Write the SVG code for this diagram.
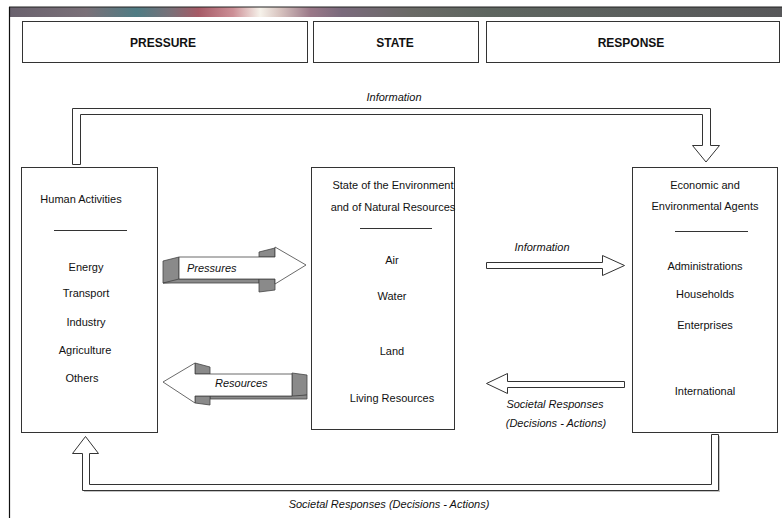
<svg xmlns="http://www.w3.org/2000/svg" width="782" height="518" viewBox="0 0 782 518">
<defs>
<linearGradient id="banner" gradientUnits="userSpaceOnUse" x1="9" y1="0" x2="782" y2="0">
<stop offset="0" stop-color="#6a626e"/>
<stop offset="0.1" stop-color="#7a7078"/>
<stop offset="0.165" stop-color="#4f7c84"/>
<stop offset="0.21" stop-color="#7a7078"/>
<stop offset="0.245" stop-color="#a65a66"/>
<stop offset="0.29" stop-color="#cc8f96"/>
<stop offset="0.325" stop-color="#f6f2ea"/>
<stop offset="0.35" stop-color="#d8c4c0"/>
<stop offset="0.39" stop-color="#9a7888"/>
<stop offset="0.43" stop-color="#7a6a7c"/>
<stop offset="0.52" stop-color="#6a6a66"/>
<stop offset="0.62" stop-color="#5e6660"/>
<stop offset="1" stop-color="#58585a"/>
</linearGradient>
<style>
.box{fill:#fff;stroke:#333;stroke-width:1}
.hdr{font-family:"Liberation Sans",Arial,sans-serif;font-size:12px;font-weight:bold;fill:#111;text-anchor:middle}
.t{font-family:"Liberation Sans",Arial,sans-serif;font-size:11px;fill:#111;text-anchor:middle}
.lbl{font-family:"Liberation Sans",Arial,sans-serif;font-size:11px;font-style:italic;fill:#111}
.sep{stroke:#333;stroke-width:1}
.hollow{fill:#fff;stroke:#333;stroke-width:1}
.shade{fill:#8a8a8a;stroke:#444;stroke-width:0.8}
.face{fill:#fff;stroke:#444;stroke-width:0.8}
</style>
</defs>
<rect x="0" y="0" width="782" height="518" fill="#fff"/>
<!-- frame -->
<rect x="9" y="7" width="773" height="10" fill="url(#banner)"/>
<line x1="9" y1="7" x2="782" y2="7" stroke="#222" stroke-width="1"/>
<line x1="9.5" y1="7" x2="9.5" y2="518" stroke="#111" stroke-width="1.2"/>
<!-- header -->
<g id="hdr-pressure"><rect class="box" x="22.5" y="21.5" width="285" height="41"/><text class="hdr" x="163" y="47">PRESSURE</text></g>
<g id="hdr-state"><rect class="box" x="313.5" y="21.5" width="165" height="41"/><text class="hdr" x="395" y="47">STATE</text></g>
<g id="hdr-response"><rect class="box" x="486.5" y="21.5" width="293" height="41"/><text class="hdr" x="631" y="47">RESPONSE</text></g>
<!-- connectors -->
<g id="connectors">
<path class="hollow" d="M72.5,164.5 V108.5 H710.5 V145.5 H719.5 L706,162 L692.5,145.5 H702.5 V114.5 H80.5 V164.5 Z"/>
<text class="lbl" x="394" y="101" text-anchor="middle">Information</text>
<path fill="#c4c4c4" d="M720,436 V492 H84 V490 H718 V436 Z"/>
<path class="hollow" d="M711.5,434.5 H718.5 V490.5 H82.5 V453.5 H72.5 L85.5,436.5 L98.5,453.5 H89.5 V484.5 H711.5 Z"/>
<text class="lbl" x="389" y="508" text-anchor="middle">Societal Responses (Decisions - Actions)</text>
<path class="hollow" d="M486.5,262.5 H602.5 V255.5 L624.5,265.5 L602.5,275.5 V268.5 H486.5 Z"/>
<text class="lbl" x="542" y="251" text-anchor="middle">Information</text>
<path class="hollow" d="M624.5,381.5 H507.5 V373.5 L486.5,383.5 L507.5,393.5 V387.5 H624.5 Z"/>
<text class="lbl" x="555" y="408" text-anchor="middle">Societal Responses</text>
<text class="lbl" x="556" y="427" text-anchor="middle">(Decisions - Actions)</text>
<g id="arrow-pressures">
<polygon class="shade" points="163,261 179,257 179,282 163,283"/>
<polygon class="shade" points="163,283 259,283 259,279 179,279"/>
<polygon class="shade" points="259,252 275,248 275,257 259,257"/>
<polygon class="shade" points="259,279 275,279 275,290 259,292"/>
<polygon class="face" points="179,257 275,257 275,247 306,265 275,284 275,279 179,279"/>
<text class="lbl" x="187" y="272">Pressures</text>
</g>
<g id="arrow-resources">
<polygon class="shade" points="292,373 307,375 307,395 292,397"/>
<polygon class="shade" points="210,396 292,396 307,395 307,399 210,399"/>
<polygon class="shade" points="195,363 210,367 210,374 195,374"/>
<polygon class="shade" points="195,396 210,396 210,405 195,403"/>
<polygon class="face" points="292,374 292,396 195,396 195,403 163,382 195,363 195,374"/>
<text class="lbl" x="215" y="387">Resources</text>
</g>
</g>
<!-- nodes -->
<g id="node-human">
<rect class="box" x="21.5" y="167.5" width="136" height="265"/>
<text class="t" x="81" y="203">Human Activities</text>
<line class="sep" x1="54" y1="230.5" x2="127" y2="230.5"/>
<text class="t" x="86" y="271">Energy</text>
<text class="t" x="86" y="297">Transport</text>
<text class="t" x="86" y="326">Industry</text>
<text class="t" x="85" y="354">Agriculture</text>
<text class="t" x="82" y="382">Others</text>
</g>
<g id="node-state">
<rect class="box" x="311.5" y="167.5" width="143" height="262"/>
<text class="t" x="393" y="189">State of the Environment</text>
<text class="t" x="393" y="211">and of Natural Resources</text>
<line class="sep" x1="360" y1="228.5" x2="432" y2="228.5"/>
<text class="t" x="392" y="264">Air</text>
<text class="t" x="392" y="300">Water</text>
<text class="t" x="392" y="355">Land</text>
<text class="t" x="392" y="402">Living Resources</text>
</g>
<g id="node-agents">
<rect class="box" x="632.5" y="167.5" width="145" height="265"/>
<text class="t" x="705" y="189">Economic and</text>
<text class="t" x="705" y="210">Environmental Agents</text>
<line class="sep" x1="675" y1="231.5" x2="748" y2="231.5"/>
<text class="t" x="705" y="270">Administrations</text>
<text class="t" x="705" y="298">Households</text>
<text class="t" x="705" y="329">Enterprises</text>
<text class="t" x="705" y="395">International</text>
</g>
</svg>
